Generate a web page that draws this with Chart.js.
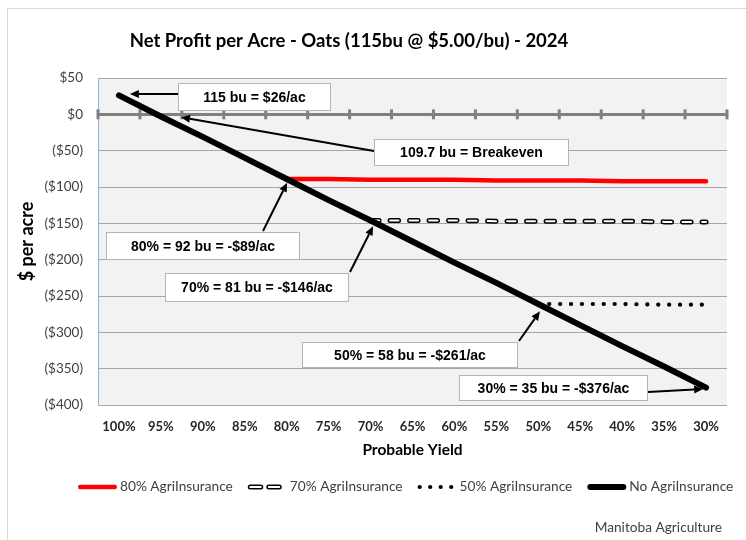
<!DOCTYPE html>
<html>
<head>
<meta charset="utf-8">
<script src="https://cdn.jsdelivr.net/npm/chart.js@4.4.1/dist/chart.umd.min.js"></script>
<style>
  html, body { margin: 0; padding: 0; background: #fff; }
  #wrap { width: 746px; height: 540px; }
</style>
</head>
<body>
<div id="wrap"><canvas id="profitChart" width="746" height="540"></canvas></div>
<script>
// Probable yield, as share of 115 bu/ac
const yieldLabels = ['100%', '95%', '90%', '85%', '80%', '75%', '70%', '65%', '60%', '55%', '50%', '45%', '40%', '35%', '30%'];

// Net profit in $/ac
const noInsurance = [26, -3, -31, -60, -89, -118, -146, -175, -204, -232, -261, -290, -319, -347, -376];
const insurance80 = [null, null, null, null, -89, -89, -90, -90, -90, -91, -91, -91, -92, -92, -92];
const insurance70 = [null, null, null, null, null, null, -146, -146, -146, -147, -147, -147, -147, -148, -148];
const insurance50 = [null, null, null, null, null, null, null, null, null, null, -261, -261, -261, -262, -262];

const seriesNames = ['80% AgriInsurance', '70% AgriInsurance', '50% AgriInsurance', 'No AgriInsurance'];

const titleText = 'Net Profit per Acre - Oats (115bu @ $5.00/bu) - 2024';
const sourceText = 'Manitoba Agriculture';

// callout boxes: box [x, y, w, h], arrow tail [x, y], arrow tip [category index, $/ac]
const callouts = [
    { text: '115 bu = $26/ac', box: [178, 83, 153, 28], tail: [178, 94], tip: [0.26, 28] },
    { text: '109.7 bu = Breakeven', box: [374, 139, 195, 27], tail: [374, 151], tip: [1.48, -4] },
    { text: '80% = 92 bu = -$89/ac', box: [106, 232, 194, 28], tail: [263, 231], tip: [4.01, -94] },
    { text: '70% = 81 bu = -$146/ac', box: [165, 273, 184, 29], tail: [350, 272], tip: [6.06, -154] },
    { text: '50% = 58 bu = -$261/ac', box: [302, 342, 216, 26], tail: [519, 341], tip: [10.04, -271] },
    { text: '30% = 35 bu = -$376/ac', box: [459, 375, 189, 26], tail: [648, 392], tip: [13.93, -378] }
];

const calibri = 'Lato, "Open Sans", sans-serif';
const arial = '"Liberation Sans", Arial, sans-serif';

function money(v) {
    return v < 0 ? '($' + (-v) + ')' : '$' + v;
}

// grey plot area and the outer chart frame
const plotBackground = {
    id: 'plotBackground',
    beforeDraw(chart) {
        const { ctx, chartArea: a } = chart;
        ctx.save();
        ctx.strokeStyle = '#d9d9d9';
        ctx.lineWidth = 1;
        ctx.strokeRect(7.5, 8.5, 800, 600);
        ctx.fillStyle = '#f2f2f2';
        ctx.fillRect(a.left, a.top, a.right - a.left, a.bottom - a.top);
        ctx.restore();
    }
};

// category tick marks sitting on the $0 line
const zeroAxisTicks = {
    id: 'zeroAxisTicks',
    beforeDatasetsDraw(chart) {
        const { ctx } = chart;
        const xs = chart.scales.x, ys = chart.scales.y;
        const y0 = ys.getPixelForValue(0);
        ctx.save();
        ctx.strokeStyle = '#808080';
        ctx.lineWidth = 3;
        for (let i = 0; i <= yieldLabels.length; i++) {
            const px = xs.getPixelForValue(i - 0.5);
            ctx.beginPath();
            ctx.moveTo(px, y0 - 5);
            ctx.lineTo(px, y0 + 5);
            ctx.stroke();
        }
        ctx.restore();
    }
};

// white core inside the 70% dashes
const hollowDash = {
    id: 'hollowDash',
    afterDatasetDraw(chart, args) {
        const ds = chart.data.datasets[args.index];
        if (!ds.hollow) return;
        const pts = args.meta.data.filter((p, i) => ds.data[i] !== null);
        const { ctx } = chart;
        ctx.save();
        ctx.strokeStyle = '#ffffff';
        ctx.lineWidth = ds.hollow;
        ctx.lineCap = 'round';
        ctx.setLineDash(ds.borderDash);
        ctx.beginPath();
        pts.forEach((p, i) => i ? ctx.lineTo(p.x, p.y) : ctx.moveTo(p.x, p.y));
        ctx.stroke();
        ctx.restore();
    }
};

function drawArrow(ctx, x1, y1, x2, y2) {
    const ang = Math.atan2(y2 - y1, x2 - x1);
    const head = 9, half = 4;
    const bx = x2 - head * Math.cos(ang), by = y2 - head * Math.sin(ang);
    ctx.beginPath();
    ctx.moveTo(x1, y1);
    ctx.lineTo(bx, by);
    ctx.stroke();
    ctx.beginPath();
    ctx.moveTo(x2, y2);
    ctx.lineTo(bx + half * Math.sin(ang), by - half * Math.cos(ang));
    ctx.lineTo(bx - half * Math.sin(ang), by + half * Math.cos(ang));
    ctx.closePath();
    ctx.fill();
}

const calloutBoxes = {
    id: 'calloutBoxes',
    afterDatasetsDraw(chart) {
        const { ctx } = chart;
        const xs = chart.scales.x, ys = chart.scales.y;
        ctx.save();
        callouts.forEach(c => {
            const [bx, by, bw, bh] = c.box;
            ctx.fillStyle = '#ffffff';
            ctx.fillRect(bx, by, bw, bh);
            ctx.strokeStyle = '#b4b4b4';
            ctx.lineWidth = 1;
            ctx.strokeRect(bx + 0.5, by + 0.5, bw - 1, bh - 1);
            ctx.fillStyle = '#000';
            ctx.font = 'bold 14px ' + arial;
            ctx.textAlign = 'center';
            ctx.textBaseline = 'middle';
            ctx.fillText(c.text, bx + bw / 2, by + bh / 2 + 1);
            ctx.strokeStyle = '#000';
            ctx.lineWidth = 2;
            drawArrow(ctx, c.tail[0], c.tail[1], xs.getPixelForValue(c.tip[0]), ys.getPixelForValue(c.tip[1]));
        });
        ctx.restore();
    }
};

// title, legend and source line
const chartText = {
    id: 'chartText',
    afterDraw(chart) {
        const { ctx } = chart;
        ctx.save();
        ctx.fillStyle = '#000';
        ctx.font = 'bold 18.5px ' + calibri;
        ctx.textAlign = 'center';
        ctx.textBaseline = 'middle';
        ctx.fillText(titleText, 349, 41);

        // legend
        const ly = 487;
        let x = 78;
        ctx.font = '13.7px ' + calibri;
        ctx.textAlign = 'left';
        const order = chart.data.datasets.slice().sort((a, b) => a.legendIndex - b.legendIndex);
        order.forEach(ds => {
            const sw = 39;
            ctx.save();
            ctx.strokeStyle = ds.borderColor;
            ctx.lineWidth = ds.borderWidth;
            ctx.lineCap = 'round';
            ctx.setLineDash(ds.legendDash || ds.borderDash || []);
            const pad = ds.borderWidth / 2;
            ctx.beginPath();
            ctx.moveTo(x + pad, ly);
            ctx.lineTo(x + sw - pad, ly);
            ctx.stroke();
            if (ds.hollow) {
                ctx.strokeStyle = '#fff';
                ctx.lineWidth = ds.hollow;
                ctx.stroke();
            }
            ctx.restore();
            ctx.fillStyle = '#404040';
            ctx.fillText(ds.label, x + sw + 3, ly);
            x += sw + 3 + ctx.measureText(ds.label).width + 15;
        });

        ctx.textAlign = 'right';
        ctx.fillText(sourceText, 722, 528);
        ctx.restore();
    }
};

new Chart(document.getElementById('profitChart'), {
    type: 'line',
    data: {
        labels: yieldLabels,
        datasets: [
            {
                label: seriesNames[3], data: noInsurance, legendIndex: 3, order: 0,
                borderColor: '#000000', borderWidth: 6, borderCapStyle: 'round', borderJoinStyle: 'round',
                pointRadius: 0
            },
            {
                label: seriesNames[0], data: insurance80, legendIndex: 0, order: 1,
                borderColor: '#ff0000', borderWidth: 4.5, borderCapStyle: 'round',
                pointRadius: 0
            },
            {
                label: seriesNames[1], data: insurance70, legendIndex: 1, order: 1,
                borderColor: '#000000', borderWidth: 5, borderCapStyle: 'round', borderDash: [8.5, 11],
                legendDash: [10.5, 8], hollow: 2,
                pointRadius: 0
            },
            {
                label: seriesNames[2], data: insurance50, legendIndex: 2, order: 1,
                borderColor: '#000000', borderWidth: 4.2, borderCapStyle: 'round', borderDash: [0.1, 10.8],
                legendDash: [0.1, 10.4],
                pointRadius: 0
            }
        ]
    },
    options: {
        responsive: false,
        animation: false,
        layout: { padding: { left: 7, right: 19, top: 78, bottom: 75 } },
        plugins: {
            legend: { display: false },
            title: { display: false },
            tooltip: { enabled: false }
        },
        scales: {
            x: {
                offset: true,
                afterFit(scale) { scale.height = 60; },
                grid: { display: false, offset: true },
                border: { display: false },
                ticks: {
                    autoSkip: false, maxRotation: 0, padding: 6,
                    color: '#262626', font: { family: calibri, size: 13, weight: 'bold' }
                },
                title: {
                    display: true, text: 'Probable Yield', color: '#000',
                    font: { family: calibri, size: 15.5, weight: 'bold' }, padding: { top: 0, bottom: 6 }
                }
            },
            y: {
                min: -400, max: 50,
                afterFit(scale) { scale.width = 91; },
                grid: {
                    drawTicks: false,
                    color: ctx => ctx.tick && ctx.tick.value === 0 ? '#808080' : '#a6a6a6',
                    lineWidth: ctx => ctx.tick && ctx.tick.value === 0 ? 3 : 1
                },
                border: { display: true, color: '#8db4e2', width: 1 },
                ticks: {
                    stepSize: 50, padding: 15, color: '#404040',
                    font: { family: calibri, size: 13.5 },
                    callback: v => money(v)
                },
                title: {
                    display: true, text: '$ per acre', color: '#000',
                    font: { family: calibri, size: 18, weight: 'bold' }, padding: { top: 9, bottom: 0 }
                }
            }
        }
    },
    plugins: [plotBackground, zeroAxisTicks, hollowDash, calloutBoxes, chartText]
});
</script>
</body>
</html>
